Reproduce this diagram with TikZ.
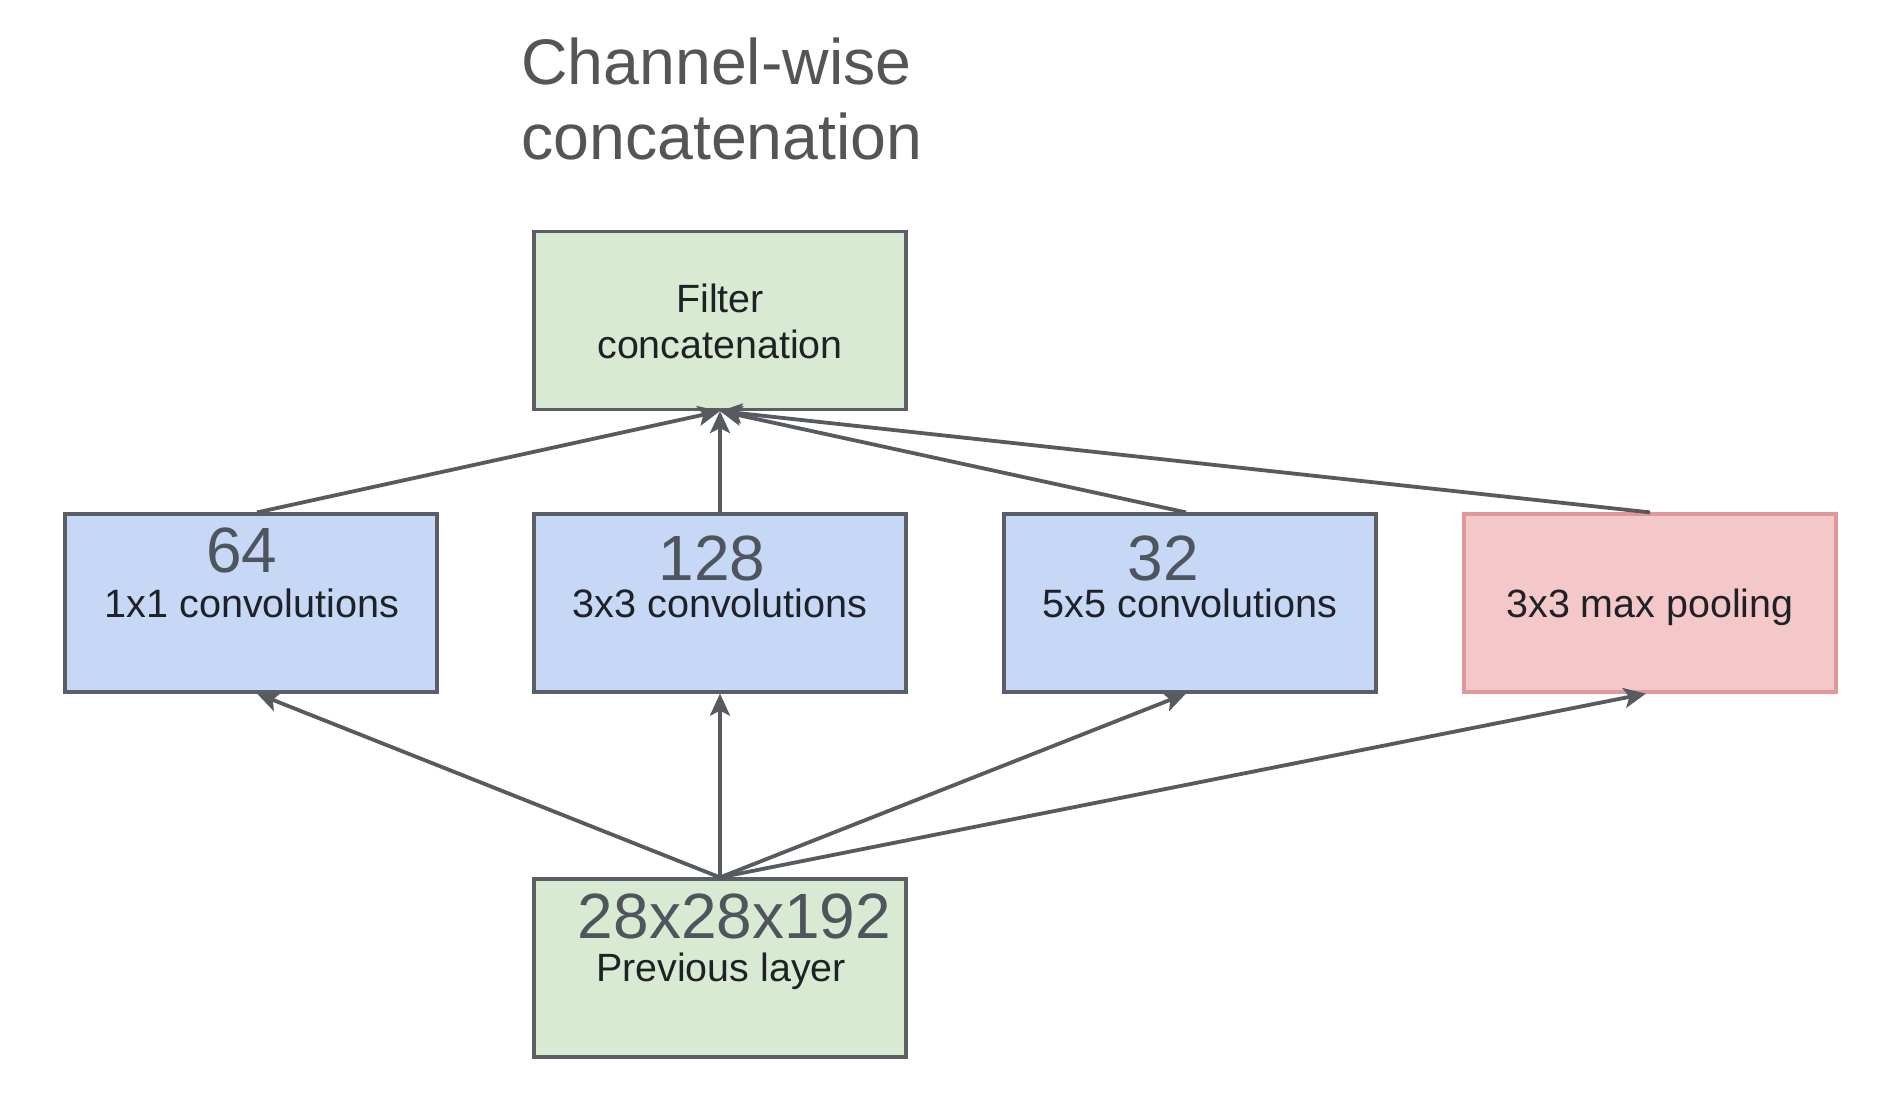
\documentclass[tikz,border=0pt]{standalone}
\usepackage{fontspec}
\setmainfont{Liberation Sans}
\usetikzlibrary{arrows.meta}
\definecolor{greenfill}{HTML}{D9EAD3}
\definecolor{bluefill}{HTML}{C6D8F6}
\definecolor{pinkfill}{HTML}{F4C7C8}
\definecolor{boxline}{HTML}{5A5E66}
\definecolor{pinkline}{HTML}{E0999B}
\definecolor{arrowcol}{HTML}{575A5E}
\definecolor{titlecol}{HTML}{555555}
\definecolor{numcol}{HTML}{4F555C}
\definecolor{labelcol}{HTML}{1E2126}
\begin{document}
\begin{tikzpicture}[x=0.5pt,y=-0.5pt,
  layerbox/.style={draw=boxline, line width=1.6pt, minimum width=186pt, minimum height=89pt, inner sep=0pt},
  conn/.style={draw=arrowcol, line width=1.9pt, -{Stealth[length=11pt,width=10pt,inset=2.5pt]}},
  titletext/.style={text=titlecol, font=\fontsize{32.2pt}{38pt}\selectfont, inner sep=0pt},
  numtext/.style={text=numcol, font=\fontsize{32pt}{38pt}\selectfont, inner sep=0pt, anchor=base},
  labeltext/.style={text=labelcol, font=\fontsize{19.8pt}{23pt}\selectfont, inner sep=0pt, anchor=base},
  biglabel/.style={text=labelcol, font=\fontsize{19.7pt}{23pt}\selectfont, inner sep=0pt, anchor=base}
]
\useasboundingbox[fill=white] (0,0) rectangle (1885,1118);

% title
\node[titletext, anchor=base west] (t1) at (521,85) {Channel-wise};
\node[titletext, anchor=base west] (t2) at (521,160) {concatenation};

% boxes
\node[layerbox, fill=greenfill] (filt) at (720,320.5) {};
\node[layerbox, fill=bluefill] (b1) at (251,603) {};
\node[layerbox, fill=bluefill] (b2) at (720,603) {};
\node[layerbox, fill=bluefill] (b3) at (1190,603) {};
\node[layerbox, fill=pinkfill, draw=pinkline] (b4) at (1650,603) {};
\node[layerbox, fill=greenfill] (prev) at (720,968) {};

% texts
\node[biglabel] (ft1) at (720,313) {Filter};
\node[biglabel] (ft2) at (720,358) {concatenation};
\node[numtext] (n1) at (242,572) {64};
\node[labeltext] (l1) at (252,617) {1x1 convolutions};
\node[numtext] (n2) at (712,580) {128};
\node[labeltext] (l2) at (720,617) {3x3 convolutions};
\node[numtext] (n3) at (1163,580) {32};
\node[labeltext] (l3) at (1190,617) {5x5 convolutions};
\node[biglabel] (l4) at (1650,617) {3x3 max pooling};
\node[numtext] (n5) at (734.5,938) {28x28x192};
\node[biglabel] (l5) at (721,981) {Previous layer};

% connectors up to filter concatenation
\draw[conn] ([xshift=3pt]b1.north) -- (filt.south);
\draw[conn] (b2.north) -- (filt.south);
\draw[conn] ([xshift=-2pt]b3.north) -- (filt.south);
\draw[conn] (b4.north) -- (filt.south);

% connectors from previous layer
\draw[conn] (prev.north) -- ([xshift=3pt]b1.south);
\draw[conn] (prev.north) -- (b2.south);
\draw[conn] (prev.north) -- ([xshift=-2pt]b3.south);
\draw[conn] (prev.north) -- ([xshift=-2pt]b4.south);
\end{tikzpicture}
\end{document}
